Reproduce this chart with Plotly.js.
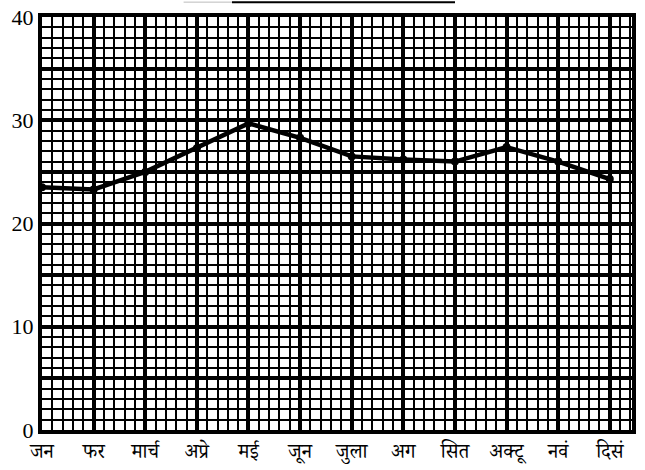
<!DOCTYPE html>
<html>
<head>
<meta charset="utf-8">
<script src="https://cdn.plot.ly/plotly-3.0.1.min.js"></script>
<style>html,body{margin:0;padding:0;background:#fff;}#chart{width:645px;height:470px;}</style>
</head>
<body>
<div id="chart"></div>
<script>
var months = ['जन', 'फर', 'मार्च', 'अप्रे', 'मई', 'जून', 'जुला', 'अग', 'सित', 'अक्टू', 'नवं', 'दिसं'];
var monthIndex = [0, 1, 2, 3, 4, 5, 6, 7, 8, 9, 10, 11];
var values = [23.5, 23.3, 25.0, 27.3, 29.7, 28.3, 26.5, 26.2, 26.0, 27.4, 26.0, 24.3];
var yTickVals = [0, 5, 10, 15, 20, 25, 30, 35, 40];
var yTickText = ['0', '', '10', '', '20', '', '30', '', '40'];

var trace = {
  x: monthIndex,
  y: values,
  type: 'scatter',
  mode: 'lines+markers',
  line: {color: '#000', width: 4.5},
  marker: {color: '#000', size: 8},
  hoverinfo: 'skip'
};

var devFont = '"Noto Serif Devanagari", "Noto Sans Devanagari", "Lohit Devanagari", "FreeSerif", serif';

var layout = {
  width: 645,
  height: 470,
  margin: {l: 42, r: 13, t: 17, b: 40},
  paper_bgcolor: '#fff',
  plot_bgcolor: '#fff',
  showlegend: false,
  xaxis: {
    range: [0, 11.43],
    tickvals: monthIndex,
    ticktext: months,
    tickfont: {family: devFont, size: 20, color: '#000'},
    showgrid: true,
    gridcolor: '#000',
    gridwidth: 4,
    minor: {dtick: 0.2, showgrid: true, gridcolor: '#000', gridwidth: 2},
    zeroline: false,
    showline: true,
    linecolor: '#000',
    linewidth: 4,
    mirror: true,
    ticks: '',
    ticklabelstandoff: 0
  },
  yaxis: {
    range: [0, 40],
    tickvals: yTickVals,
    ticktext: yTickText,
    tickfont: {family: '"Liberation Serif", "DejaVu Serif", serif', size: 22, color: '#000'},
    showgrid: true,
    gridcolor: '#000',
    gridwidth: 4,
    minor: {dtick: 1, showgrid: true, gridcolor: '#000', gridwidth: 2},
    zeroline: false,
    showline: true,
    linecolor: '#000',
    linewidth: 4,
    mirror: true,
    ticks: '',
    ticklabelstandoff: 0
  },
  shapes: [
    {type: 'line', xref: 'paper', yref: 'paper', x0: 0.322, x1: 0.7, y0: 1.036, y1: 1.036,
     line: {color: '#000', width: 2}},
    {type: 'line', xref: 'paper', yref: 'paper', x0: 0.24, x1: 0.322, y0: 1.036, y1: 1.036,
     line: {color: '#bbb', width: 1}}
  ]
};

Plotly.newPlot('chart', [trace], layout, {displayModeBar: false, staticPlot: true});
</script>
</body>
</html>
